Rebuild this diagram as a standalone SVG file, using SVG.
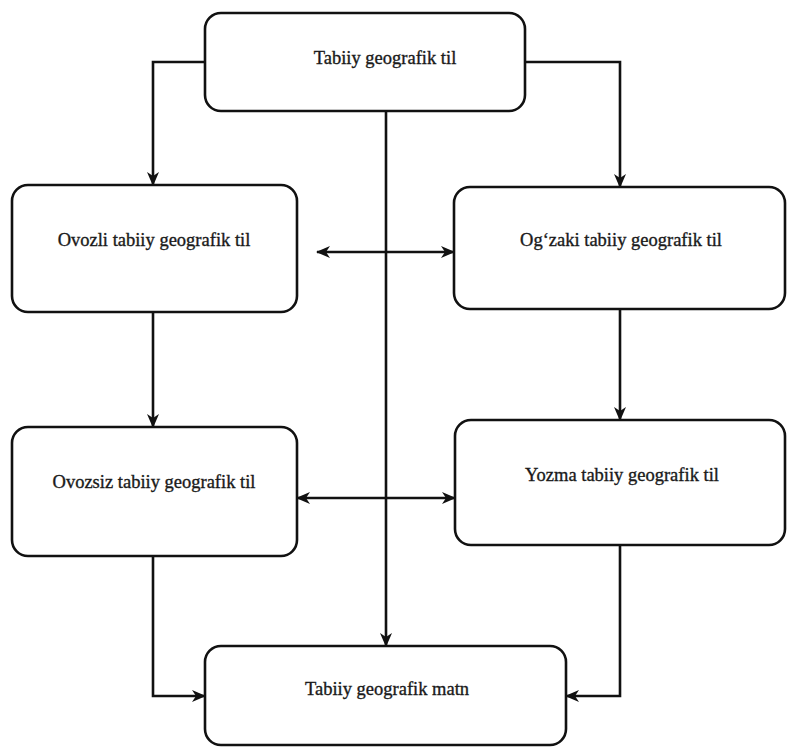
<svg xmlns="http://www.w3.org/2000/svg" width="787" height="747" viewBox="0 0 787 747">
<defs>
<style>
.box{fill:#ffffff;stroke:#111;stroke-width:2.6}
text{font-family:'Liberation Serif','Times New Roman',serif;font-size:18.5px;fill:#1a1a1a;stroke:#1a1a1a;stroke-width:0.35;text-anchor:middle}
.ln{fill:none;stroke:#111;stroke-width:2.6}
</style>
<marker id="ah" viewBox="0 0 14 14" refX="13" refY="7" markerWidth="14" markerHeight="14" markerUnits="userSpaceOnUse" orient="auto-start-reverse">
<path d="M0,1 L14,7 L0,13 L4,7 Z" fill="#111"/>
</marker>
</defs>
<rect width="787" height="747" fill="#ffffff"/>
<g id="connectors">
<polyline class="ln" points="205,62 153,62 153,185" marker-end="url(#ah)"/>
<polyline class="ln" points="525,62 620,62 620,187" marker-end="url(#ah)"/>
<line class="ln" x1="386" y1="111" x2="386" y2="646" marker-end="url(#ah)"/>
<line class="ln" x1="153" y1="312" x2="153" y2="427" marker-end="url(#ah)"/>
<line class="ln" x1="620" y1="309" x2="620" y2="420" marker-end="url(#ah)"/>
<line class="ln" x1="317" y1="252" x2="454" y2="252" marker-start="url(#ah)" marker-end="url(#ah)"/>
<line class="ln" x1="297" y1="498" x2="455" y2="498" marker-start="url(#ah)" marker-end="url(#ah)"/>
<polyline class="ln" points="153,556 153,696 205,696" marker-end="url(#ah)"/>
<polyline class="ln" points="620,545 620,696 566,696" marker-end="url(#ah)"/>
</g>
<g id="n-top">
<rect class="box" x="205" y="13" width="320" height="98" rx="16"/>
<text x="385" y="64">Tabiiy geografik til</text>
</g>
<g id="n-ovozli">
<rect class="box" x="12" y="185" width="285" height="127" rx="16"/>
<text x="154" y="246">Ovozli tabiiy geografik til</text>
</g>
<g id="n-ogzaki">
<rect class="box" x="454" y="187" width="331" height="122" rx="16"/>
<text x="621" y="246">Og‘zaki tabiiy geografik til</text>
</g>
<g id="n-ovozsiz">
<rect class="box" x="12" y="427" width="285" height="129" rx="16"/>
<text x="154" y="488">Ovozsiz tabiiy geografik til</text>
</g>
<g id="n-yozma">
<rect class="box" x="455" y="420" width="330" height="125" rx="16"/>
<text x="622" y="481">Yozma tabiiy geografik til</text>
</g>
<g id="n-matn">
<rect class="box" x="205" y="646" width="361" height="99" rx="16"/>
<text x="387" y="695">Tabiiy geografik matn</text>
</g>
</svg>
